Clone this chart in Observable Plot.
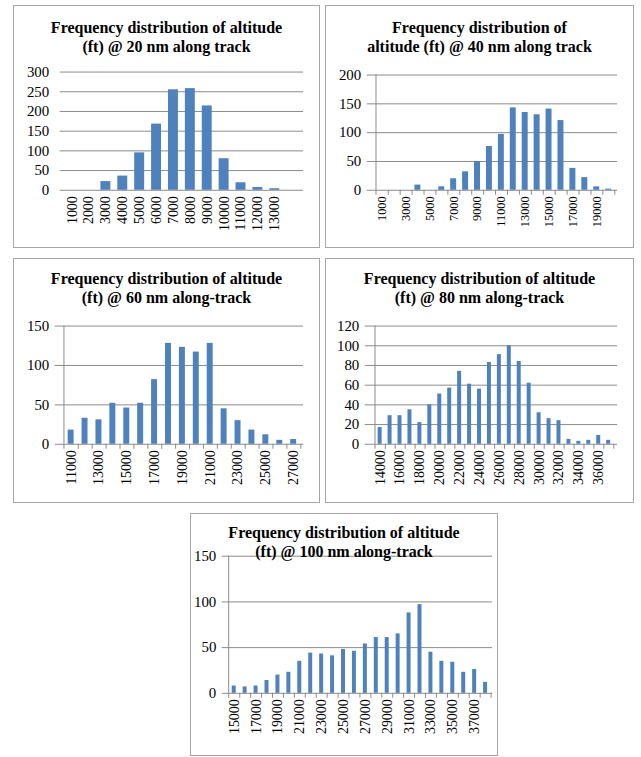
<!DOCTYPE html>
<html>
<head>
<meta charset="utf-8">
<script src="https://cdn.jsdelivr.net/npm/d3@7"></script>
<script src="https://cdn.jsdelivr.net/npm/@observablehq/plot@0.6"></script>
<style>
  body { margin: 0; background: #fff; width: 641px; height: 757px; position: relative; overflow: hidden;
         font-family: "Liberation Serif", "Times New Roman", serif; }
  .panel { position: absolute; border: 1px solid #a6a6a6; box-sizing: border-box; background: #fff; }
  .panel svg { position: absolute; left: -1px; top: -1px; }
  .panel svg text { font-family: "Liberation Serif", "Times New Roman", serif !important; }
  .title { position: absolute; left: 0; right: 0; text-align: center; font-weight: bold; font-size: 16px;
           line-height: 19px; color: #000; z-index: 2; white-space: nowrap; }
</style>
</head>
<body>
<script>
// ---- Data ----
const titles20 = ["Frequency distribution of altitude", "(ft) @ 20 nm along track"];
const cats20 = ["1000","2000","3000","4000","5000","6000","7000","8000","9000","10000","11000","12000","13000",""];
const vals20 = [0,0,22,36,95,168,255,258,214,80,19,7,4,0];
const xTicks20 = ["1000","2000","3000","4000","5000","6000","7000","8000","9000","10000","11000","12000","13000"];
const yTicks20 = [0,50,100,150,200,250,300];

const titles40 = ["Frequency distribution of", "altitude (ft) @ 40 nm along track"];
const cats40 = ["1000","2000","3000","4000","5000","6000","7000","8000","9000","10000","11000","12000","13000","14000","15000","16000","17000","18000","19000","20000"];
const vals40 = [0,0,0,9,0,6,20,32,50,76,97,143,135,131,141,121,38,22,6,2];
const xTicks40 = ["1000","3000","5000","7000","9000","11000","13000","15000","17000","19000"];
const yTicks40 = [0,50,100,150,200];

const titles60 = ["Frequency distribution of altitude", "(ft) @ 60 nm along-track"];
const cats60 = ["11000","12000","13000","14000","15000","16000","17000","18000","19000","20000","21000","22000","23000","24000","25000","26000","27000"];
const vals60 = [18,33,31,52,46,52,82,128,123,117,128,45,30,18,12,5,6];
const xTicks60 = ["11000","13000","15000","17000","19000","21000","23000","25000","27000"];
const yTicks60 = [0,50,100,150];

const titles80 = ["Frequency distribution of altitude", "(ft) @ 80 nm along-track"];
const cats80 = ["14000","15000","16000","17000","18000","19000","20000","21000","22000","23000","24000","25000","26000","27000","28000","29000","30000","31000","32000","33000","34000","35000","36000","37000"];
const vals80 = [17,29,29,35,22,40,51,57,74,61,56,83,91,100,84,62,32,26,24,5,3,4,9,4];
const xTicks80 = ["14000","16000","18000","20000","22000","24000","26000","28000","30000","32000","34000","36000"];
const yTicks80 = [0,20,40,60,80,100,120];

const titles100 = ["Frequency distribution of altitude", "(ft) @ 100 nm along-track"];
const cats100 = ["15000","16000","17000","18000","19000","20000","21000","22000","23000","24000","25000","26000","27000","28000","29000","30000","31000","32000","33000","34000","35000","36000","37000","38000"];
const vals100 = [8,7,8,14,20,23,35,44,43,41,48,46,54,61,61,65,88,97,45,35,34,23,26,12];
const xTicks100 = ["15000","17000","19000","21000","23000","25000","27000","29000","31000","33000","35000","37000"];
const yTicks100 = [0,50,100,150];

// ---- Rendering ----
const BAR = "#4f81bd";
const GRID = "#8a8a8a";
const SERIF = '"Liberation Serif", "Times New Roman", serif';

function makePanel(cfg) {
  const {titles, cats, vals, xTicks, yTicks, L, T, W, H, ml, mr, mt, mb,
         pad, xFont, yFont, titleTop, axisLine, catTicks} = cfg;
  const div = document.createElement("div");
  div.className = "panel";
  Object.assign(div.style, {left: L + "px", top: T + "px", width: W + "px", height: H + "px"});
  const t = document.createElement("div");
  t.className = "title";
  t.style.top = titleTop + "px";
  t.innerHTML = titles.join("<br>");
  div.appendChild(t);

  const n = cats.length;
  const step = (W - ml - mr) / n;
  const plotH = H - mt - mb;
  const data = cats.map((c, i) => ({c, v: vals[i]}));
  const marks = [
    Plot.ruleY(yTicks, {stroke: GRID, strokeWidth: 1, insetLeft: axisLine ? -5 : 0}),
    Plot.barY(data, {x: "c", y: "v", fill: BAR}),
    Plot.axisY(yTicks, {tickSize: 0, tickPadding: 11, fontSize: yFont, fontFamily: SERIF, fill: "#000", label: null}),
    Plot.axisX(xTicks, {tickSize: 0, tickPadding: 6, tickRotate: -90, fontSize: xFont, fontFamily: SERIF, fill: "#000", label: null})
  ];
  if (axisLine) {
    marks.push(Plot.ruleX([cats[0]], {dx: -step / 2, stroke: GRID, strokeWidth: 1, insetBottom: -5}));
  }
  if (catTicks) {
    marks.push(Plot.ruleX(cats, {dx: step / 2, stroke: GRID, strokeWidth: 1, insetTop: plotH, insetBottom: -5}));
  }
  const svg = Plot.plot({
    width: W, height: H,
    marginLeft: ml, marginRight: mr, marginTop: mt, marginBottom: mb,
    style: {fontFamily: SERIF, background: "transparent", color: "#000"},
    x: {type: "band", domain: cats, paddingInner: pad, paddingOuter: pad / 2, axis: null},
    y: {domain: [yTicks[0], yTicks[yTicks.length - 1]], axis: null},
    marks
  });
  div.appendChild(svg);
  document.body.appendChild(div);
}

makePanel({titles: titles20, cats: cats20, vals: vals20, xTicks: xTicks20, yTicks: yTicks20,
  L: 13, T: 5, W: 307, H: 243, ml: 47, mr: 15, mt: 67, mb: 57, pad: 0.39, xFont: 14, yFont: 15,
  titleTop: 12, axisLine: false, catTicks: false});
makePanel({titles: titles40, cats: cats40, vals: vals40, xTicks: xTicks40, yTicks: yTicks40,
  L: 325, T: 5, W: 309, H: 243, ml: 47, mr: 15, mt: 70, mb: 57, pad: 0.5, xFont: 12.5, yFont: 15,
  titleTop: 12, axisLine: true, catTicks: true});
makePanel({titles: titles60, cats: cats60, vals: vals60, xTicks: xTicks60, yTicks: yTicks60,
  L: 13, T: 258, W: 307, H: 245, ml: 47, mr: 15, mt: 68, mb: 58, pad: 0.58, xFont: 14, yFont: 15,
  titleTop: 10, axisLine: true, catTicks: true});
makePanel({titles: titles80, cats: cats80, vals: vals80, xTicks: xTicks80, yTicks: yTicks80,
  L: 325, T: 258, W: 309, H: 245, ml: 45, mr: 15, mt: 68, mb: 58, pad: 0.6, xFont: 14, yFont: 15,
  titleTop: 10, axisLine: true, catTicks: true});
makePanel({titles: titles100, cats: cats100, vals: vals100, xTicks: xTicks100, yTicks: yTicks100,
  L: 190, T: 513, W: 308, H: 243, ml: 37, mr: 4, mt: 43, mb: 62, pad: 0.6, xFont: 14, yFont: 15,
  titleTop: 9, axisLine: true, catTicks: true});
</script>
</body>
</html>
